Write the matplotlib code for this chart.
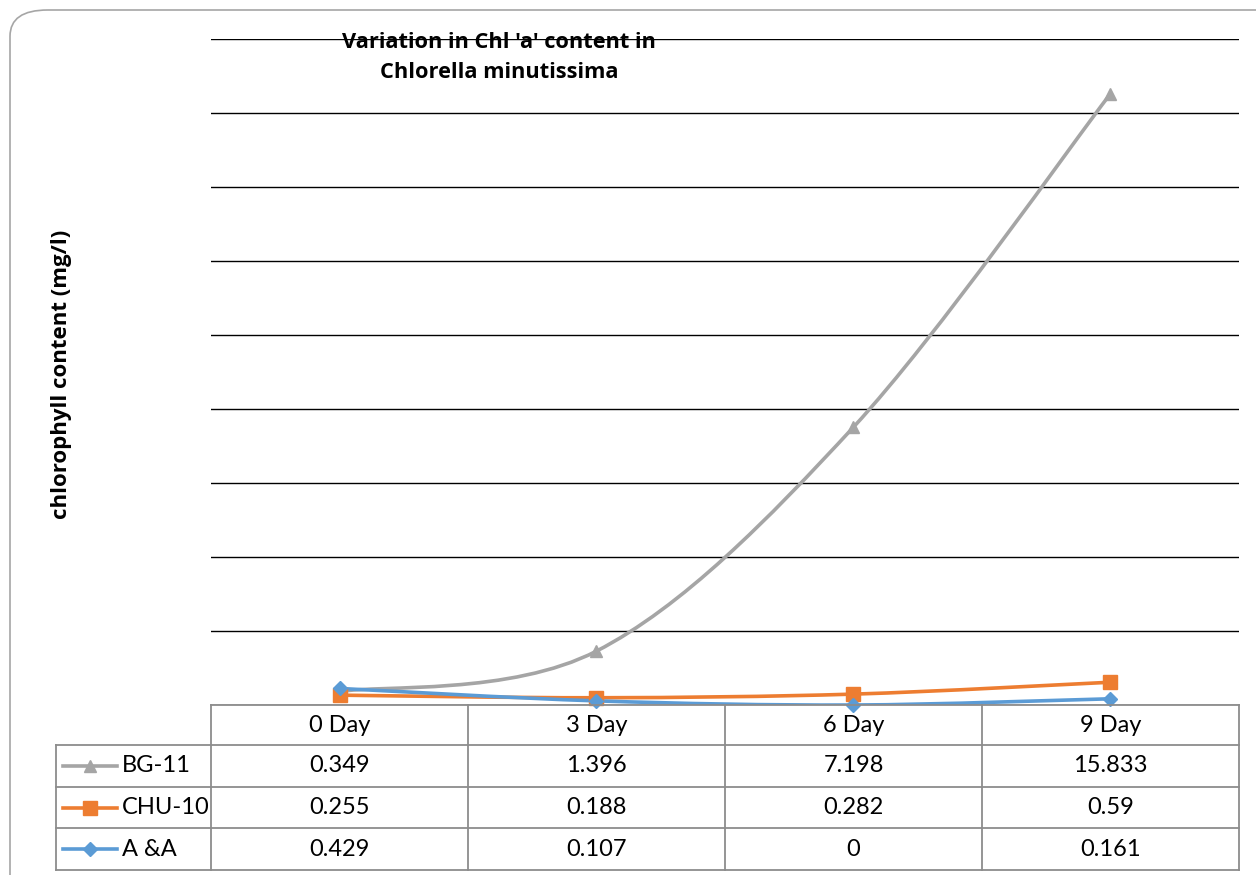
import numpy as np
import matplotlib
matplotlib.use('Agg')
import matplotlib.pyplot as plt
from matplotlib.path import Path
from matplotlib.patches import PathPatch, FancyBboxPatch
from matplotlib.lines import Line2D

plt.rcParams['font.family'] = ['Lato', 'DejaVu Sans']

days = ['0 Day', '3 Day', '6 Day', '9 Day']
series_names = ['BG-11', 'CHU-10', 'A &A']
bg11 = [0.349, 1.396, 7.198, 15.833]
chu10 = [0.255, 0.188, 0.282, 0.59]
aa = [0.429, 0.107, 0, 0.161]

colors = ['#a5a5a5', '#ed7d31', '#5b9bd5']
markers = ['^', 's', 'D']
msizes = [9, 10, 7.5]

W, H = 1256, 875
fig = plt.figure(figsize=(W / 100, H / 100), dpi=100)

def fx(px):
    return px / W

def fy(py):
    return 1 - py / H

# rounded outer frame
frame = FancyBboxPatch((fx(10), fy(1000)), fx(1400), fy(10) - fy(1000),
                       boxstyle='round,pad=0,rounding_size=0.03',
                       transform=fig.transFigure, fill=False,
                       edgecolor='#a6a6a6', linewidth=1.2)
fig.patches.append(frame)

left, right, top, bottom = 211, 1239, 39, 705
ax = fig.add_axes([fx(left), fy(bottom), fx(right) - fx(left), fy(top) - fy(bottom)])
ymax = 17.25
ax.set_xlim(0, 4)
ax.set_ylim(0, ymax)
ax.set_yticks(np.linspace(0, ymax, 10))
ax.set_xticks([])
ax.tick_params(axis='y', length=0, labelleft=False)
ax.grid(axis='y', color='#000000', linewidth=1.0)
for s in ax.spines.values():
    s.set_visible(False)
ax.set_axisbelow(True)


def smooth_path(xs, ys):
    pts = np.column_stack([xs, ys]).astype(float)
    n = len(pts)
    verts = [pts[0]]
    codes = [Path.MOVETO]
    for i in range(n - 1):
        p0 = pts[i - 1] if i > 0 else pts[i]
        p3 = pts[i + 2] if i + 2 < n else pts[i + 1]
        c1 = pts[i] + (pts[i + 1] - p0) / 6
        c2 = pts[i + 1] - (p3 - pts[i]) / 6
        verts += [c1, c2, pts[i + 1]]
        codes += [Path.CURVE4] * 3
    return Path(verts, codes)


xpos = np.arange(len(days)) + 0.5
for vals, c, m, ms in zip([bg11, chu10, aa], colors, markers, msizes):
    ax.add_patch(PathPatch(smooth_path(xpos, vals), fill=False, edgecolor=c,
                           linewidth=2.6, capstyle='round', joinstyle='round'))
    ax.plot(xpos, vals, linestyle='none', marker=m, markersize=ms, color=c,
            clip_on=False, zorder=5)

# title and y label
tfont = ['Open Sans', 'DejaVu Sans']
fig.text(fx(499), fy(42), "Variation in Chl 'a' content in", ha='center', va='center',
         fontsize=15.7, fontweight='bold', family=tfont)
fig.text(fx(499), fy(73), 'Chlorella minutissima', ha='center', va='center',
         fontsize=15.7, fontweight='bold', family=tfont)
fig.text(fx(62), fy(374), 'chlorophyll content (mg/l)', ha='center', va='center',
         rotation=90, fontsize=16, fontweight='bold', family=tfont)

# data table
col_x = [56, 211, 468, 725, 982, 1239]
row_y = [705, 745, 787, 828, 870]
tc = '#8c8c8c'

def hline(y, x0, x1):
    fig.add_artist(Line2D([fx(x0), fx(x1)], [fy(y), fy(y)], color=tc, linewidth=1.3))

def vline(x, y0, y1):
    fig.add_artist(Line2D([fx(x), fx(x)], [fy(y0), fy(y1)], color=tc, linewidth=1.3))

hline(row_y[0], col_x[1], col_x[-1])
for y in row_y[1:]:
    hline(y, col_x[0], col_x[-1])
vline(col_x[0], row_y[1], row_y[-1])
for x in col_x[1:]:
    vline(x, row_y[0], row_y[-1])

fs = 17
for j, d in enumerate(days):
    cx = (col_x[j + 1] + col_x[j + 2]) / 2
    fig.text(fx(cx), fy((row_y[0] + row_y[1]) / 2), d, ha='center', va='center', fontsize=fs)

for i, (name, vals) in enumerate(zip(series_names, [bg11, chu10, aa])):
    cy = (row_y[i + 1] + row_y[i + 2]) / 2
    fig.add_artist(Line2D([fx(63), fx(117)], [fy(cy), fy(cy)], color=colors[i],
                          linewidth=2.6))
    fig.add_artist(Line2D([fx(90)], [fy(cy)], color=colors[i], marker=markers[i],
                          markersize=msizes[i], linestyle='none'))
    fig.text(fx(122), fy(cy), name, ha='left', va='center', fontsize=fs)
    for j, v in enumerate(vals):
        cx = (col_x[j + 1] + col_x[j + 2]) / 2
        fig.text(fx(cx), fy(cy), f'{v:g}', ha='center', va='center', fontsize=fs)

fig.savefig('out.png', dpi=100)
